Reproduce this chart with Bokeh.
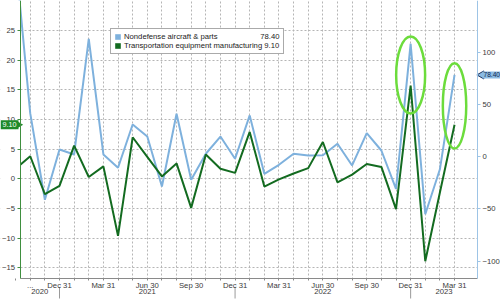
import math
from bokeh.plotting import figure
from bokeh.models import (Range1d, LinearAxis, FixedTicker, Legend, LegendItem, Label)
from bokeh.embed import file_html
from bokeh.resources import INLINE

# ---------------- data ----------------
months = ["2020-09", "2020-10", "2020-11", "2020-12",
          "2021-01", "2021-02", "2021-03", "2021-04", "2021-05", "2021-06",
          "2021-07", "2021-08", "2021-09", "2021-10", "2021-11", "2021-12",
          "2022-01", "2022-02", "2022-03", "2022-04", "2022-05", "2022-06",
          "2022-07", "2022-08", "2022-09", "2022-10", "2022-11", "2022-12",
          "2023-01", "2023-02", "2023-03"]

# Nondefense aircraft & parts, m/m % (right axis)
aircraft = [190.0, 41.5, -41.2, 7.0,
            2.2, 113.0, 2.2, -10.5, 30.9, 19.4,
            -28.5, 41.2, -22.0, 2.9, 19.4, -1.9,
            39.6, -16.3, -7.7, 2.9, 1.2, 1.5,
            12.5, -8.3, 22.6, 6.0, -30.7, 108.3,
            -55.0, -12.0, 78.4]

# Transportation equipment manufacturing, m/m % (left axis)
transport = [1.7, 3.8, -2.6, -1.2,
             5.6, 0.3, 2.1, -9.6, 7.0, 3.7,
             0.4, 2.6, -4.9, 4.1, 1.7, 1.0,
             7.9, -1.3, -0.1, 0.9, 1.8, 6.2,
             -0.6, 0.7, 2.5, 2.0, -5.1, 15.7,
             -13.9, -2.3, 9.1]

tick_months = ["2020-10", "2020-12", "2021-03", "2021-06", "2021-09", "2021-12",
               "2022-03", "2022-06", "2022-09", "2022-12", "2023-03"]
tick_labels = ["...", "Dec 31", "Mar 31", "Jun 30", "Sep 30", "Dec 31",
               "Mar 31", "Jun 30", "Sep 30", "Dec 31", "Mar 31"]
year_labels = ["2020", "2021", "2022", "2023"]
left_ticks = [-15, -10, -5, 0, 5, 10, 15, 20, 25]
right_ticks = [-100, -50, 0, 50, 100]
highlight_months = ["2022-12", "2023-03"]

series_names = ["Nondefense aircraft & parts", "Transportation equipment manufacturing"]

# ---------------- layout (pixels) ----------------
W, H = 500, 303
PL, PR, PT, PB = 19.5, 477.0, 0.0, 278.0      # plot area inside the canvas
X_LIM = (0.30, 31.57)                           # visible month-index span of plot area
YL_LIM = (-16.8, 30.05)                         # left axis span of plot area
YR_LIM = (-116.6, 149.7)                        # right axis span of plot area

def ext(lo, hi, p_lo, p_hi, full):
    # extend a span that maps onto pixels [p_lo, p_hi] to the whole canvas [0, full]
    k = (hi - lo) / (p_hi - p_lo)
    return lo - p_lo * k, hi + (full - p_hi) * k

XS, XE = ext(X_LIM[0], X_LIM[1], PL, PR, W)
LB, LT = ext(YL_LIM[0], YL_LIM[1], H - PB, H - PT, H)
RB, RT = ext(YR_LIM[0], YR_LIM[1], H - PB, H - PT, H)

def px_to_x(px):
    return XS + px / W * (XE - XS)

def py_to_yl(py):
    return LT - py / H * (LT - LB)

# ---------------- style ----------------
BLUE = "#7eb1dd"
GREEN = "#136b20"
HILITE = "#6cdc3c"
FONT = "Liberation Sans"
TXT = "#3a3a3a"
FS = "7.7px"

x = list(range(len(months)))

p = figure(width=W, height=H, output_backend="svg", toolbar_location=None,
           x_range=Range1d(XS, XE), y_range=Range1d(LB, LT), min_border=0)
p.outline_line_color = None
p.background_fill_color = "white"
p.border_fill_color = "white"
p.extra_y_ranges = {"right": Range1d(RB, RT)}

def style_axis(ax, line_color):
    ax.axis_line_color = line_color
    ax.major_tick_line_color = line_color
    ax.major_tick_out = 3
    ax.major_tick_in = 0
    ax.minor_tick_line_color = None
    ax.major_label_text_font = FONT
    ax.major_label_text_font_size = FS
    ax.major_label_text_color = TXT

# left axis
ly = p.yaxis[0]
ly.ticker = FixedTicker(ticks=left_ticks)
ly.fixed_location = X_LIM[0]
ly.bounds = YL_LIM
style_axis(ly, "#3f8f3f")
ly.major_label_standoff = 2

# right axis
ra = LinearAxis(y_range_name="right", ticker=FixedTicker(ticks=right_ticks),
                fixed_location=X_LIM[1], bounds=YR_LIM)
style_axis(ra, "#9dc4e6")
ra.major_label_standoff = 2
p.add_layout(ra, "right")

# bottom axis (quarter labels, month ticks)
tick_pos = [months.index(m) for m in tick_months]
bx = p.xaxis[0]
bx.ticker = FixedTicker(ticks=x)
bx.major_label_overrides = {i: (tick_labels[tick_pos.index(i)] if i in tick_pos else "") for i in x}
bx.fixed_location = YL_LIM[0]
bx.bounds = X_LIM
style_axis(bx, "#8a8a8a")
bx.major_tick_out = 2
bx.major_label_standoff = 0

# year axis (labels only)
dec_idx = [i for i, m in enumerate(months) if m.endswith("-12")]
bounds = [X_LIM[0]] + dec_idx + [X_LIM[1]]
year_pos = [(bounds[k] + bounds[k + 1]) / 2 for k in range(len(year_labels))]
ya = LinearAxis(ticker=FixedTicker(ticks=year_pos), fixed_location=py_to_yl(288.5),
                bounds=X_LIM)
ya.major_label_overrides = {year_pos[k]: year_labels[k] for k in range(len(year_labels))}
ya.axis_line_color = None
ya.major_tick_line_color = None
ya.minor_tick_line_color = None
ya.major_tick_out = 0
ya.major_tick_in = 0
ya.major_label_text_font = FONT
ya.major_label_text_font_size = FS
ya.major_label_text_color = TXT
ya.major_label_standoff = 0
p.add_layout(ya, "below")

# grids
p.xgrid.ticker = FixedTicker(ticks=x)
p.ygrid.ticker = FixedTicker(ticks=left_ticks)
for g in (p.xgrid, p.ygrid):
    g.grid_line_color = "#b5b5b5"
    g.grid_line_dash = "2 2"
    g.grid_line_width = 1

# series lines
p.line(x, aircraft, y_range_name="right", line_color=BLUE, line_width=2)
p.line(x, transport, line_color=GREEN, line_width=2)

# white masks over the margins (outside the plot area)
p.quad(left=[XS, X_LIM[1], XS], right=[X_LIM[0], XE, XE],
       top=[LT, LT, YL_LIM[0]], bottom=[LB, LB, LB],
       fill_color="white", line_color=None)

# year separators
p.segment(x0=dec_idx, x1=dec_idx, y0=[py_to_yl(286.5)] * len(dec_idx),
          y1=[py_to_yl(298)] * len(dec_idx), line_color="#9a9a9a", line_width=1)

# highlight ellipses
hx = [months.index(m) for m in highlight_months]
p.ellipse(x=hx, y=[17.5, 12.3], width=[1.98, 1.6], height=[13.0, 14.4],
          fill_color=None, line_color=HILITE, line_width=2.5)

# legend (square swatches)
r1 = p.rect(x=[hx[0]], y=[0], width=0, height=0, fill_color=BLUE, line_color=None)
r2 = p.rect(x=[hx[0]], y=[0], width=0, height=0, fill_color=GREEN, line_color=None)
NB = "\u00a0"
lab1 = series_names[0] + NB * 20 + f"{aircraft[-1]:.2f}"
lab2 = series_names[1] + " " + f"{transport[-1]:.2f}"
legend = Legend(items=[LegendItem(label=lab1, renderers=[r1], index=0),
                       LegendItem(label=lab2, renderers=[r2], index=0)],
                location=(110, H - 53.5), padding=3, spacing=0, margin=0,
                glyph_width=7, glyph_height=7, label_standoff=3,
                label_height=9,
                label_text_font=FONT, label_text_font_size=FS,
                label_text_color="#222222",
                border_line_color="#555555", border_line_width=1,
                background_fill_color="white", background_fill_alpha=1)
p.add_layout(legend, "center")

# last-value badges (pointers + labels)
p.scatter(x=[px_to_x(17.5)], y=[transport[-1]], marker="triangle", size=9,
          angle=-math.pi / 2, fill_color="#1f8a2a", line_color=None)
p.scatter(x=[px_to_x(481)], y=[aircraft[-1]], y_range_name="right", marker="triangle",
          size=8, angle=math.pi / 2, fill_color="#8bbbe3", line_color="#1d3360")
p.add_layout(Label(x=0, y=transport[-1], x_units="screen", text=f"{transport[-1]:.2f}",
                   text_align="left", text_baseline="middle", text_font=FONT,
                   text_font_size="7.2px", text_color="white",
                   background_fill_color="#1f8a2a", padding=2))
p.add_layout(Label(x=482, y=aircraft[-1], x_units="screen", y_range_name="right",
                   text=f"{aircraft[-1]:.2f}", text_align="left", text_baseline="middle",
                   text_font=FONT, text_font_size="6.6px", text_color="#13284f",
                   background_fill_color="#8bbbe3", padding=1))

open("out.html", "w").write(file_html(p, INLINE))
